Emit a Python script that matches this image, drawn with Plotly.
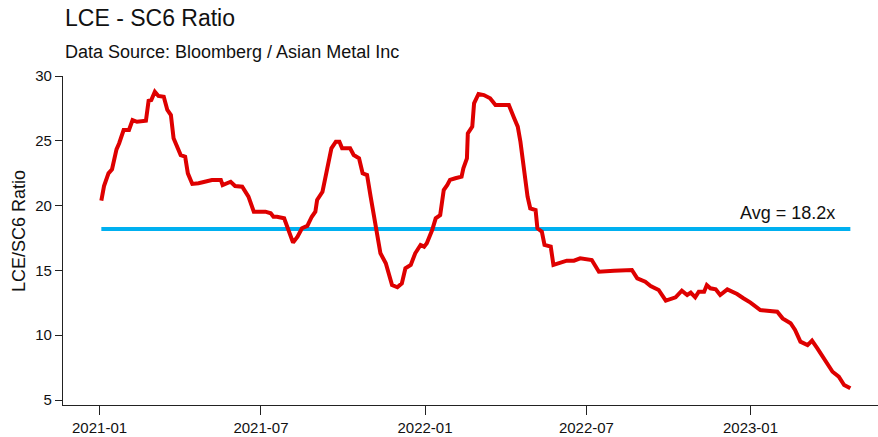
import plotly.graph_objects as go

# LCE / SC6 price ratio, sampled at turning points of the series
dates = [
    "2021-01-03", "2021-01-06", "2021-01-11", "2021-01-15", "2021-01-20", "2021-01-23",
    "2021-01-28", "2021-02-03", "2021-02-07", "2021-02-12", "2021-02-22", "2021-02-25",
    "2021-02-28", "2021-03-04", "2021-03-08", "2021-03-14", "2021-03-18", "2021-03-22",
    "2021-03-25", "2021-03-29", "2021-04-02", "2021-04-07", "2021-04-10", "2021-04-15",
    "2021-04-22", "2021-05-07", "2021-05-17", "2021-05-19", "2021-05-28", "2021-06-02",
    "2021-06-10", "2021-06-17", "2021-06-20", "2021-06-23", "2021-07-06", "2021-07-12",
    "2021-07-15", "2021-07-19", "2021-07-27", "2021-07-30", "2021-08-03", "2021-08-06",
    "2021-08-11", "2021-08-16", "2021-08-22", "2021-08-27", "2021-08-31", "2021-09-02",
    "2021-09-08", "2021-09-11", "2021-09-15", "2021-09-18", "2021-09-23", "2021-09-27",
    "2021-09-30", "2021-10-09", "2021-10-13", "2021-10-19", "2021-10-23", "2021-10-28",
    "2021-11-01", "2021-11-07", "2021-11-12", "2021-11-18", "2021-11-25", "2021-12-01",
    "2021-12-06", "2021-12-10", "2021-12-16", "2021-12-21", "2021-12-27", "2021-12-31",
    "2022-01-03", "2022-01-09", "2022-01-13", "2022-01-18", "2022-01-22", "2022-01-26",
    "2022-01-29", "2022-02-04", "2022-02-11", "2022-02-13", "2022-02-17", "2022-02-18",
    "2022-02-23", "2022-02-25", "2022-03-02", "2022-03-08", "2022-03-15", "2022-03-21",
    "2022-04-05", "2022-04-11", "2022-04-15", "2022-04-18", "2022-04-22", "2022-04-26",
    "2022-04-29", "2022-05-05", "2022-05-07", "2022-05-12", "2022-05-15", "2022-05-22",
    "2022-05-25", "2022-06-02", "2022-06-09", "2022-06-17", "2022-06-24", "2022-07-07",
    "2022-07-11", "2022-07-15", "2022-08-01", "2022-08-21", "2022-08-27", "2022-09-05",
    "2022-09-11", "2022-09-20", "2022-09-28", "2022-10-09", "2022-10-16", "2022-10-22",
    "2022-10-26", "2022-10-31", "2022-11-04", "2022-11-10", "2022-11-13", "2022-11-17",
    "2022-11-23", "2022-11-28", "2022-12-06", "2022-12-17", "2022-12-24", "2023-01-01",
    "2023-01-12", "2023-01-31", "2023-02-06", "2023-02-15", "2023-02-20", "2023-02-26",
    "2023-03-06", "2023-03-11", "2023-03-17", "2023-03-26", "2023-04-03", "2023-04-10",
    "2023-04-16", "2023-04-23",
]
ratio = [
    20.38, 21.51, 22.49, 22.80, 24.34, 24.81,
    25.83, 25.83, 26.60, 26.47, 26.55, 28.09,
    28.15, 28.79, 28.46, 28.40, 27.38, 26.99,
    25.19, 24.54, 23.90, 23.77, 22.49, 21.67,
    21.72, 21.98, 21.98, 21.59, 21.84, 21.51,
    21.46, 20.69, 19.97, 19.53, 19.53, 19.41,
    19.14, 19.14, 19.02, 18.50, 17.73, 17.14,
    17.60, 18.25, 18.43, 19.14, 19.53, 20.43,
    21.07, 22.11, 23.26, 24.42, 24.93, 24.93,
    24.42, 24.42, 23.90, 23.65, 22.49, 22.36,
    20.69, 18.25, 16.32, 15.55, 13.87, 13.70,
    14.00, 15.16, 15.42, 16.32, 16.96, 16.83,
    17.09, 18.12, 19.02, 19.27, 21.20, 21.59,
    21.98, 22.11, 22.23, 22.88, 23.65, 25.58,
    26.09, 27.89, 28.61, 28.53, 28.28, 27.76,
    27.76, 26.74, 26.09, 24.93, 22.75, 20.69,
    19.79, 19.66, 18.25, 17.99, 16.96, 16.83,
    15.42, 15.59, 15.75, 15.75, 15.93, 15.80,
    15.29, 14.90, 14.98, 15.03, 14.39, 14.13,
    13.80, 13.49, 12.66, 12.92, 13.43, 13.10,
    13.28, 12.92, 13.36, 13.36, 13.87, 13.62,
    13.54, 13.10, 13.54, 13.18, 12.85, 12.51,
    11.94, 11.81, 11.30, 10.92, 10.40, 9.50,
    9.24, 9.58, 8.99, 8.09, 7.18, 6.80,
    6.16, 5.90,
]
avg_ratio = 18.2

x_ticks = ["2021-01-01", "2021-07-01", "2022-01-01", "2022-07-01", "2023-01-01"]
x_tick_labels = ["2021-01", "2021-07", "2022-01", "2022-07", "2023-01"]
y_ticks = [5, 10, 15, 20, 25, 30]

FONT = "Liberation Sans, Arial, sans-serif"
RED = "#DE0000"
BLUE = "#00B0F0"

fig = go.Figure()

# long-run average
fig.add_trace(go.Scatter(
    x=[dates[0], dates[-1]], y=[avg_ratio, avg_ratio],
    mode="lines", line=dict(color=BLUE, width=4), hoverinfo="skip",
))

# ratio series
fig.add_trace(go.Scatter(
    x=dates, y=ratio, mode="lines",
    line=dict(color=RED, width=4),
))

fig.update_layout(
    width=878, height=437,
    margin=dict(l=63, r=0, t=76, b=32),
    paper_bgcolor="white", plot_bgcolor="white",
    showlegend=False,
    font=dict(family=FONT, color="#111111"),
    xaxis=dict(
        range=["2020-11-21", "2023-05-24"],
        tickvals=x_ticks, ticktext=x_tick_labels,
        showgrid=False, zeroline=False,
        showline=True, linecolor="#222222", linewidth=1.3,
        ticks="outside", ticklen=9, tickwidth=1.3, tickcolor="#222222",
        tickfont=dict(size=15, family=FONT, color="#111111"),
    ),
    yaxis=dict(
        range=[4.614, 30],
        tickvals=y_ticks,
        showgrid=False, zeroline=False,
        showline=True, linecolor="#222222", linewidth=1.3,
        ticks="outside", ticklen=7, tickwidth=1.3, tickcolor="#222222",
        tickfont=dict(size=15, family=FONT, color="#111111"),
    ),
    annotations=[
        dict(text="LCE - SC6 Ratio", xref="paper", yref="paper",
             x=0, y=1.1748, xanchor="left", yanchor="middle", showarrow=False,
             font=dict(size=23, family=FONT, color="#111111")),
        dict(text="Data Source: Bloomberg / Asian Metal Inc", xref="paper", yref="paper",
             x=0, y=1.0729, xanchor="left", yanchor="middle", showarrow=False,
             font=dict(size=18, family=FONT, color="#111111")),
        dict(text="LCE/SC6 Ratio", xref="paper", yref="paper",
             x=-0.0546, y=0.527, xanchor="center", yanchor="middle",
             textangle=-90, showarrow=False,
             font=dict(size=18, family=FONT, color="#111111")),
        dict(text=f"Avg = {avg_ratio}x", xref="x", yref="y",
             x=dates[-1], y=avg_ratio, xanchor="right", yanchor="bottom",
             xshift=-13, yshift=4, showarrow=False,
             font=dict(size=18, family=FONT, color="#111111")),
    ],
)

fig.write_html("out.html")
